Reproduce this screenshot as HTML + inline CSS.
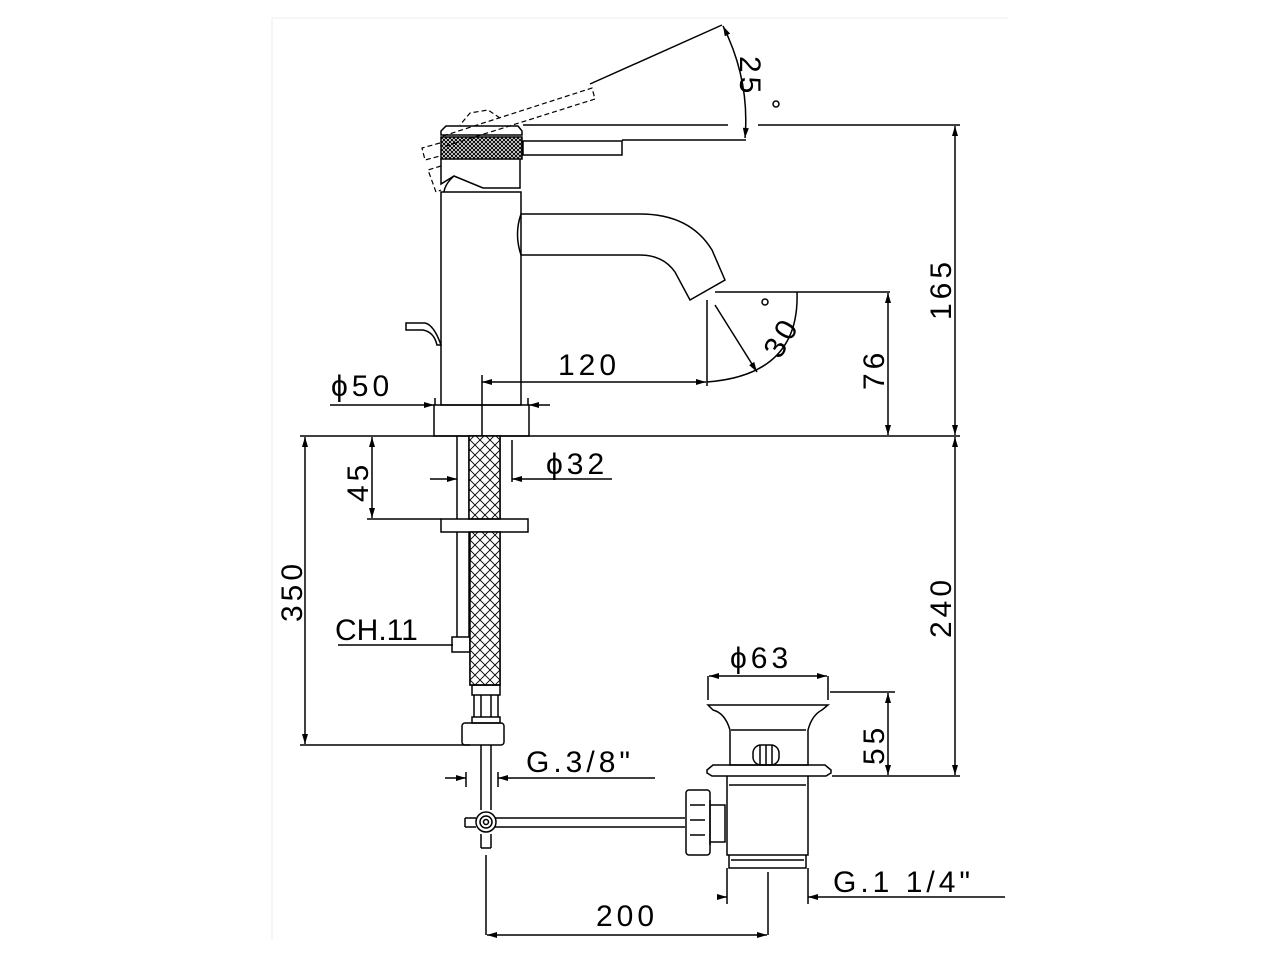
<!DOCTYPE html>
<html><head><meta charset="utf-8"><style>
html,body{margin:0;padding:0;background:#fff}
svg{display:block}
text{font-family:"Liberation Sans",sans-serif;font-size:30px;fill:#000;letter-spacing:4px}
</style></head><body>
<svg width="1280" height="960" viewBox="0 0 1280 960" xmlns="http://www.w3.org/2000/svg">
<defs>
<pattern id="knurl" width="4" height="4" patternUnits="userSpaceOnUse">
<rect width="4" height="4" fill="#fff"/><path d="M0 0L4 4M4 0L0 4" stroke="#000" stroke-width="1"/>
</pattern>
<pattern id="braid" width="10" height="10" patternUnits="userSpaceOnUse">
<rect width="10" height="10" fill="#fff"/><path d="M0 0L10 10M10 0L0 10" stroke="#000" stroke-width="0.9"/>
</pattern>
<marker id="a" viewBox="0 0 10 6" refX="10" refY="3" markerWidth="14" markerHeight="6" orient="auto-start-reverse" markerUnits="userSpaceOnUse"><path d="M0 0L10 3L0 6Z" fill="#000"/></marker>
</defs>
<g fill="none" stroke="#eee" stroke-width="1">
<path d="M272 18H1008M272 18V940"/>
</g>
<g fill="none" stroke="#000" stroke-width="1.5">
<path d="M441 135V131L446 126H518L522 131V135Z"/>
<rect x="441" y="137" width="81" height="22" fill="url(#knurl)"/>
<path d="M441 159V184L454 176L483 188L520 188V159"/>
<path d="M454 176Q445 184 444 192"/>
<rect x="523" y="141" width="99" height="14"/>
<g stroke-dasharray="5,3" stroke-width="1.2">
<path d="M443 136L592 88L595 99L446 146"/>
<path d="M440 143L422 148L425 160L440 156"/>
<path d="M441 166L428 170L436 192L441 190"/>
<path d="M500 118L488 110L470 113L460 125"/>
</g>
<path d="M590 84L722 25"/>
<path d="M441 192H521V405H441Z"/>
<path d="M434 405H529V436H434Z"/>
<path d="M521 214H640Q690 214 712 250L725 280L690 300L675 272Q663 255 640 255H521Q514 234 521 214Z"/>
<path d="M441 345Q434 325 425 323H406V330H423Q434 332 437 345Z"/>
<path d="M300 436H960"/>
<path d="M523 125H728M758 125H960"/>
<path d="M622 140H746"/>
<path d="M723 26Q750 80 745 138" marker-start="url(#a)" marker-end="url(#a)"/>
<path d="M715 292H890"/>
<path d="M707 300V386"/>
<path d="M797 292Q800 375 707 382" />
<path d="M715 305L757 372" marker-end="url(#a)"/>
<path d="M482 382H706" marker-start="url(#a)" marker-end="url(#a)"/>
<path d="M482 375V436"/>
<path d="M330 405H434" marker-end="url(#a)"/><path d="M529 405H550" marker-start="url(#a)"/>
<path d="M435 398V405M528 398V405"/>
<path d="M888 293V435" marker-start="url(#a)" marker-end="url(#a)"/>
<path d="M955 126V435" marker-start="url(#a)" marker-end="url(#a)"/>
<path d="M955 437V775" marker-start="url(#a)" marker-end="url(#a)"/>
<path d="M305 437V744" marker-start="url(#a)" marker-end="url(#a)"/>
<path d="M300 745H470"/>
<path d="M372 437V518" marker-start="url(#a)" marker-end="url(#a)"/>
<path d="M367 519H441"/>
<path d="M430 479H457" marker-end="url(#a)"/><path d="M512 479H612" marker-start="url(#a)"/>
<path d="M512 440V482"/>
<path d="M338 645H453"/>
<path d="M457 436V519M469 436V519M500 436V519"/>
<rect x="469" y="436" width="31" height="83" fill="url(#braid)"/>
<rect x="441" y="519" width="87" height="13"/>
<path d="M457 532V637M469 532V637"/>
<rect x="452" y="637" width="18" height="15"/>
<path d="M470 532V685H500V532"/>
<rect x="470" y="532" width="30" height="153" fill="url(#braid)"/>
<rect x="472" y="685" width="28" height="10"/>
<path d="M474 695V717M481 695V717M491 695V717M498 695V717"/>
<rect x="472" y="717" width="28" height="6"/>
<rect x="462" y="723" width="42" height="22" rx="3"/>
<path d="M481 745V810M491 745V810M481 834V848M491 834V848M481 848H491"/>
<path d="M466 772V787M498 772V787"/>
<path d="M445 778H466" marker-end="url(#a)"/><path d="M498 778H655" marker-start="url(#a)"/>
<path d="M486 855V935"/>
<path d="M465 818H476M495 818H685M465 827H476M495 827H685M465 818V827"/>
<circle cx="486" cy="822" r="10"/><circle cx="486" cy="822" r="6"/><circle cx="486" cy="822" r="2.5"/>
<path d="M708 705H828L822 710Q812 715 808 730V765H730V730Q725 713 713 710Z"/>
<path d="M731 730H806"/>
<rect x="753" y="745" width="26" height="20" rx="8"/>
<path d="M760 745V765M766 745V765M772 745V765"/>
<path d="M707 770L713 765H825L831 770V773L826 776H712L707 773Z"/>
<path d="M727 776V855H808V776"/>
<path d="M729 785H806"/>
<path d="M729 855V868H806V855"/>
<path d="M731 860H804"/>
<rect x="686" y="790" width="24" height="65" rx="3"/>
<path d="M710 800V845M690 805H705M690 820H705M690 835H705"/>
<path d="M710 805H725V842H710"/>
<path d="M708 676V700M828 676V700"/>
<path d="M709 676H827" marker-start="url(#a)" marker-end="url(#a)"/>
<path d="M830 692H895M832 776H960"/>
<path d="M888 693V775" marker-start="url(#a)" marker-end="url(#a)"/>
<path d="M727 868V904M808 868V904"/>
<path d="M720 897H727" marker-end="url(#a)"/><path d="M808 897H1005" marker-start="url(#a)"/>
<path d="M768 872V935"/>
<path d="M487 935H767" marker-start="url(#a)" marker-end="url(#a)"/>
<circle cx="776" cy="104" r="3"/>
<circle cx="765" cy="302" r="3"/>
</g>
<text transform="translate(740,56) rotate(90)">25</text>
<text transform="translate(780,360) rotate(-60)">30</text>
<text x="558" y="375">120</text>
<text x="331" y="396">ϕ50</text>
<text transform="translate(884,390) rotate(-90)">76</text>
<text transform="translate(951,320) rotate(-90)">165</text>
<text transform="translate(951,638) rotate(-90)">240</text>
<text transform="translate(302,622) rotate(-90)">350</text>
<text transform="translate(368,502) rotate(-90)">45</text>
<text x="546" y="474">ϕ32</text>
<text x="335" y="640" style="letter-spacing:0">CH.11</text>
<text x="526" y="772">G.3/8"</text>
<text x="730" y="668">ϕ63</text>
<text transform="translate(884,765) rotate(-90)">55</text>
<text x="833" y="892">G.1 1/4"</text>
<text x="596" y="926">200</text>
</svg>
</body></html>
